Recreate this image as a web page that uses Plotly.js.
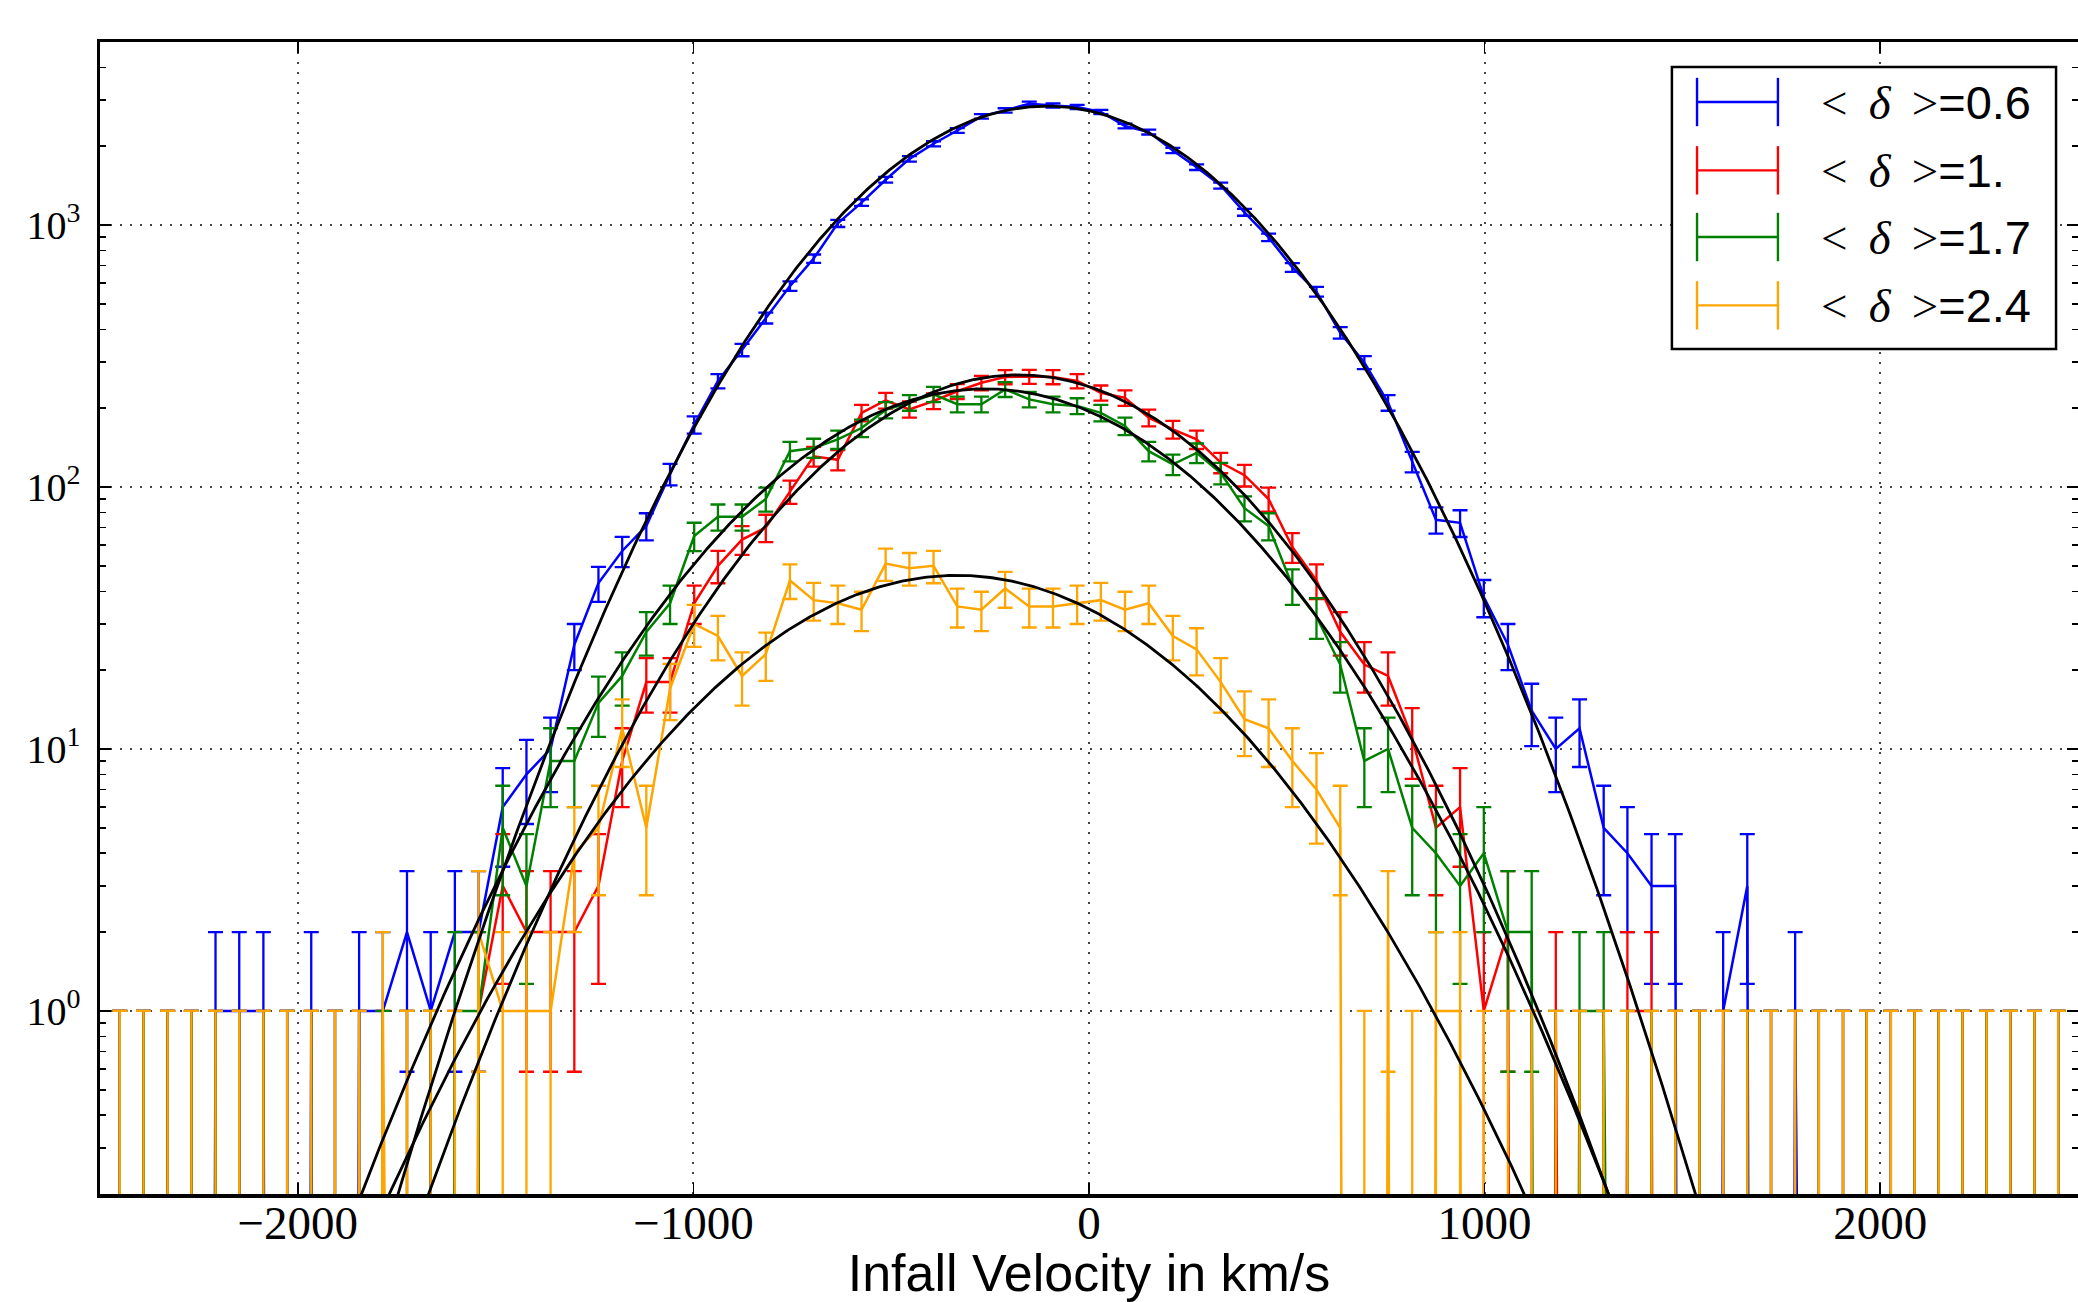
<!DOCTYPE html>
<html>
<head>
<meta charset="utf-8">
<script src="https://cdn.plot.ly/plotly-3.0.1.min.js"></script>
<style>
html,body{margin:0;padding:0;background:#ffffff;}
#chart{width:2078px;height:1302px;}
</style>
</head>
<body>
<div id="chart"></div>
<script>
// ---- data ----
const binCenters = [
  -2450,-2390,-2329,-2269,-2208,-2148,-2087,-2027,-1966,-1906,
  -1845,-1785,-1724,-1664,-1603,-1543,-1482,-1422,-1361,-1301,
  -1240,-1180,-1119,-1059,-998,-938,-877,-817,-756,-696,
  -635,-575,-514,-454,-393,-333,-272,-212,-151,-91,
  -30,30,91,151,212,272,333,393,454,514,
  575,635,696,756,817,877,938,998,1059,1119,
  1180,1240,1301,1361,1422,1482,1543,1603,1664,1724,
  1785,1845,1906,1966,2027,2087,2148,2208,2269,2329,
  2390,2450];

const countsDelta06 = [
  0,0,0,0,1,1,1,0,1,0,
  1,1,2,1,2,2,6,8,10,25,
  43,57,71,112,173,254,334,442,585,745,
  1015,1218,1490,1790,2044,2297,2600,2741,2906,2864,
  2824,2703,2388,2265,1928,1664,1416,1119,898,689,
  557,388,299,210,125,75,73,38,25,14,
  10,12,5,4,3,3,0,1,3,0,
  1,0,0,0,0,0,0,0,0,0,
  0,0];

const countsDelta10 = [
  0,0,0,0,0,0,0,0,0,0,
  0,0,0,0,0,1,3,2,2,2,
  3,9,18,18,36,50,63,70,96,131,
  127,192,214,198,213,232,250,263,264,263,
  254,229,219,184,166,152,124,111,90,59,
  44,28,21,19,11,5,6,1,2,0,
  1,0,0,1,1,0,0,0,0,0,
  0,0,0,0,0,0,0,0,0,0,
  0,0];

const countsDelta17 = [
  0,0,0,0,0,0,0,0,0,0,
  0,0,0,0,1,1,5,3,9,9,
  15,19,28,36,65,77,77,90,137,141,
  152,168,197,210,226,207,207,236,216,207,
  204,192,171,137,122,135,113,83,71,42,
  32,21,9,10,5,4,3,4,2,2,
  0,1,1,0,0,0,0,0,0,0,
  0,0,0,0,0,0,0,0,0,0,
  0,0];

const countsDelta24 = [
  0,0,0,0,0,0,0,0,0,0,
  0,1,0,0,0,2,1,1,1,4,
  5,12,5,17,30,27,19,23,44,37,
  36,34,51,49,50,35,34,41,35,35,
  36,37,34,36,27,24,18,13,12,9,
  7,5,0,2,0,1,1,0,0,0,
  0,0,0,0,0,0,0,0,0,0,
  0,0,0,0,0,0,0,0,0,0,
  0,0];

const seriesLabels = ['0.6', '1.', '1.7', '2.4'];
const seriesColors = ['#0000ff', '#ff0000', '#008000', '#ffa500'];

// Gaussian fit parameters (black curves)
const fitAmplitude = [2845, 268, 237, 46];
const fitMean      = [-107, -178, -263, -334];
const fitSigma     = [375, 393, 419, 435];

const xTickVals = [-2000, -1000, 0, 1000, 2000];
const xTickText = ['\u22122000', '\u22121000', '0', '1000', '2000'];
const yTickVals = [1, 10, 100, 1000];
const yTickText = ['10<sup>0</sup>', '10<sup>1</sup>', '10<sup>2</sup>', '10<sup>3</sup>'];
const xTitle = 'Infall Velocity in km/s';

// ---- build traces ----
const allCounts = [countsDelta06, countsDelta10, countsDelta17, countsDelta24];
// empty bins are clipped far below the axis (as matplotlib's log clipping does)
const CLIP_FLOOR = 1e-30;

const traces = [];
allCounts.forEach((counts, i) => {
  traces.push({
    type: 'scatter',
    mode: 'lines',
    name: '< \u03b4 >=' + seriesLabels[i],
    x: binCenters,
    y: counts.map(n => n > 0 ? n : CLIP_FLOOR),
    line: {color: seriesColors[i], width: 2.5},
    error_y: {
      type: 'data',
      array: counts.map(n => Math.sqrt(Math.max(n, 1))),
      visible: true,
      color: seriesColors[i],
      thickness: 2.3,
      width: 7.5
    },
    showlegend: false,
    hoverinfo: 'x+y+name'
  });
});

const fitX = [];
for (let v = -2500; v <= 2500; v += 5) fitX.push(v);
fitAmplitude.forEach((a, i) => {
  traces.push({
    type: 'scatter',
    mode: 'lines',
    name: 'fit ' + seriesLabels[i],
    x: fitX,
    y: fitX.map(v => a * Math.exp(-Math.pow(v - fitMean[i], 2) / (2 * fitSigma[i] * fitSigma[i]))),
    line: {color: '#000000', width: 2.8},
    showlegend: false,
    hoverinfo: 'skip'
  });
});

// minor tick positions for the log axis
const yMinor = [];
[0.1, 1, 10, 100, 1000].forEach(d => {
  for (let m = 2; m <= 9; m++) {
    const v = m * d;
    if (v >= 0.2 && v <= 5000) yMinor.push(v);
  }
});

// ---- custom legend (error-bar style handles) ----
const legX0 = 0.7947, legX1 = 0.9889, legY0 = 0.7335, legY1 = 0.9783;
const rowY = [0.9479, 0.8886, 0.8307, 0.7714];
const hx0 = 0.8074, hx1 = 0.8483, capH = 0.021;
const shapes = [{
  type: 'rect', xref: 'paper', yref: 'paper', layer: 'above',
  x0: legX0, x1: legX1, y0: legY0, y1: legY1,
  line: {color: '#000', width: 2.5}, fillcolor: '#ffffff'
}];
const annotations = [];
seriesLabels.forEach((lab, i) => {
  const c = seriesColors[i];
  shapes.push({type: 'line', xref: 'paper', yref: 'paper', layer: 'above',
    x0: hx0, x1: hx1, y0: rowY[i], y1: rowY[i], line: {color: c, width: 2.4}});
  shapes.push({type: 'line', xref: 'paper', yref: 'paper', layer: 'above',
    x0: hx0, x1: hx0, y0: rowY[i] - capH, y1: rowY[i] + capH, line: {color: c, width: 2.4}});
  shapes.push({type: 'line', xref: 'paper', yref: 'paper', layer: 'above',
    x0: hx1, x1: hx1, y0: rowY[i] - capH, y1: rowY[i] + capH, line: {color: c, width: 2.4}});
  annotations.push({
    xref: 'paper', yref: 'paper', x: 0.869, y: rowY[i],
    xanchor: 'left', yanchor: 'middle', showarrow: false,
    text: "<span style=\"font-family:'Liberation Serif'\">&lt; \u2009<i>\u03b4</i>\u2009 &gt;</span>=" + lab,
    font: {family: 'Liberation Sans, Arial, sans-serif', size: 47, color: '#000'}
  });
});

const axisCommon = {
  showline: true, linecolor: '#000', linewidth: 3.5, mirror: 'ticks',
  ticks: 'inside', ticklen: 11, tickwidth: 1.5, tickcolor: '#000',
  showgrid: true, gridcolor: '#444', gridwidth: 2, griddash: '2px,8px',
  zeroline: false, automargin: false
};

const layout = {
  width: 2078, height: 1302,
  margin: {l: 100, r: 0, t: 42, b: 108, pad: 0},
  paper_bgcolor: '#ffffff', plot_bgcolor: '#ffffff',
  showlegend: false,
  xaxis: Object.assign({}, axisCommon, {
    range: [-2500, 2500],
    tickmode: 'array', tickvals: xTickVals, ticktext: xTickText,
    tickfont: {family: 'Liberation Serif, DejaVu Serif, serif', size: 47, color: '#000'},
    ticklabelstandoff: -15,
    title: {text: xTitle, standoff: 12,
      font: {family: 'Liberation Sans, Arial, sans-serif', size: 52, color: '#000'}}
  }),
  yaxis: Object.assign({}, axisCommon, {
    type: 'log',
    range: [Math.log10(0.2), Math.log10(5000)],
    tickmode: 'array', tickvals: yTickVals, ticktext: yTickText,
    tickfont: {family: 'Liberation Serif, DejaVu Serif, serif', size: 40, color: '#000'},
    ticklabelstandoff: 8,
    minor: {tickmode: 'array', tickvals: yMinor, ticks: 'inside', ticklen: 6,
      tickwidth: 1.5, tickcolor: '#000', showgrid: false}
  }),
  shapes: shapes,
  annotations: annotations
};

Plotly.newPlot('chart', traces, layout, {displayModeBar: false, staticPlot: true});
</script>
</body>
</html>
